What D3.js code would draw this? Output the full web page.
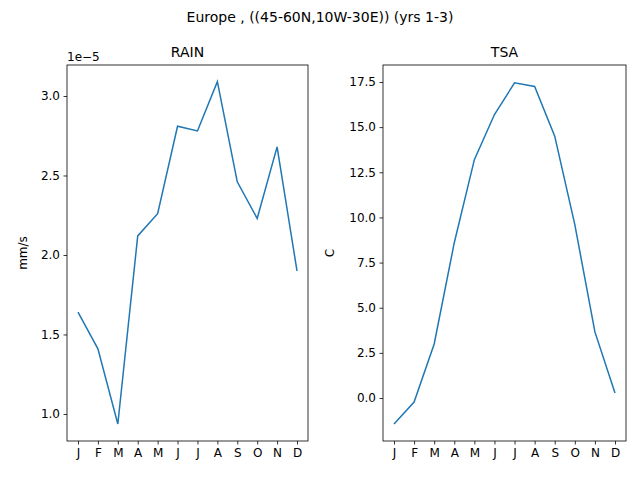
<!DOCTYPE html>
<html><head><meta charset="utf-8">
<script src="https://cdn.jsdelivr.net/npm/d3@7"></script>
<style>body{margin:0;background:#fff}text{font-family:"DejaVu Sans",sans-serif;fill:#000}</style>
</head><body><svg id="c" width="640" height="480"></svg>
<script>
const months=["J","F","M","A","M","J","J","A","S","O","N","D"];
const rain=[1.64,1.41,0.937,2.12,2.26,2.81,2.78,3.09,2.46,2.23,2.68,1.90];
const tsa=[-1.44,-0.22,2.99,8.6,13.2,15.7,17.45,17.25,14.5,9.6,3.66,0.28];
const rainTicks=[1.0,1.5,2.0,2.5,3.0];
const tsaTicks=[0,2.5,5,7.5,10,12.5,15,17.5];
const svg=d3.select("#c");
svg.append("text").attr("x",320).attr("y",22).attr("text-anchor","middle").attr("font-size",14).text("Europe , ((45-60N,10W-30E)) (yrs 1-3)");
function panel(x0,x1,data,dom,ticks,fmt,title,ylab,ylx,exp){
  const y0=65,y1=441;
  const x=d3.scalePoint().domain(d3.range(12)).range([x0+11,x1-11]);
  const y=d3.scaleLinear().domain(dom).range([y1,y0]);
  const g=svg.append("g");
  g.append("path").datum(data).attr("fill","none").attr("stroke","#1f77b4").attr("stroke-width",1.5)
   .attr("d",d3.line().x((d,i)=>x(i)).y(d=>y(d)));
  g.append("rect").attr("x",x0).attr("y",y0).attr("width",x1-x0).attr("height",y1-y0).attr("fill","none").attr("stroke","#000").attr("stroke-width",0.8);
  const ax=g.append("g").attr("transform",`translate(0,${y1})`).call(d3.axisBottom(x).tickSize(3.5).tickPadding(3.5).tickFormat(i=>months[i]));
  const ay=g.append("g").attr("transform",`translate(${x0},0)`).call(d3.axisLeft(y).tickValues(ticks).tickSize(3.5).tickPadding(3.5).tickFormat(fmt));
  [ax,ay].forEach(a=>{a.select(".domain").remove();a.selectAll("text").attr("font-size",12).attr("font-family","DejaVu Sans");a.selectAll("line").attr("stroke-width",0.8);});
  g.append("text").attr("x",(x0+x1)/2).attr("y",57).attr("text-anchor","middle").attr("font-size",14).text(title);
  g.append("text").attr("transform",`translate(${ylx},${(y0+y1)/2}) rotate(-90)`).attr("text-anchor","middle").attr("font-size",12).text(ylab);
  if(exp) g.append("text").attr("x",x0).attr("y",61).attr("font-size",12).text(exp);
}
panel(67,308,rain,[0.83,3.195],rainTicks,d3.format(".1f"),"RAIN","mm/s",27,"1e\u22125");
panel(383,626,tsa,[-2.38,18.44],tsaTicks,d3.format(".1f"),"TSA","C",334,null);
</script></body></html>
